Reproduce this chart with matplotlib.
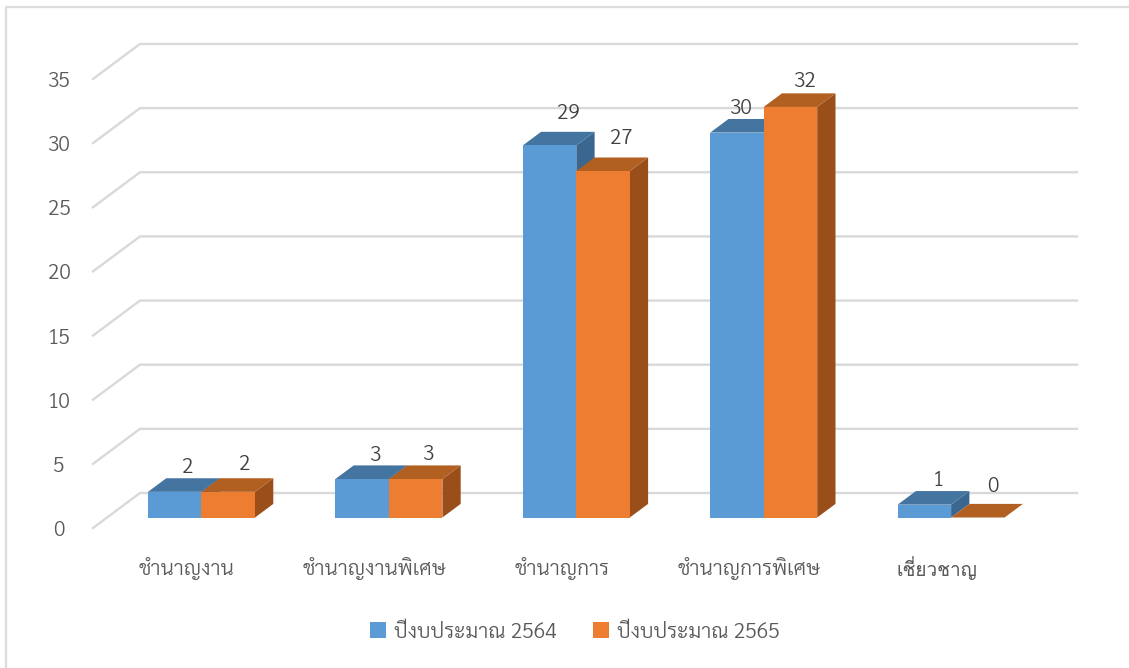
import matplotlib
matplotlib.use("Agg")
import matplotlib.pyplot as plt
from matplotlib.patches import Patch, Polygon

plt.rcParams['font.family'] = ['Sarabun', 'Noto Sans Thai', 'DejaVu Sans']
plt.rcParams['font.weight'] = 300

categories = ["ชำนาญงาน", "ชำนาญงานพิเศษ", "ชำนาญการ", "ชำนาญการพิเศษ", "เชี่ยวชาญ"]
series_names = ["ปีงบประมาณ 2564", "ปีงบประมาณ 2565"]
values_2564 = [2, 3, 29, 30, 1]
values_2565 = [2, 3, 27, 32, 0]
y_ticks = [0, 5, 10, 15, 20, 25, 30, 35]

# layout, in pixels of the 1129x668 picture
W, H = 1129, 668
PX_X = 187.4      # one category
PX_Y = 12.83      # one value unit
X0, Y0 = 201.5, 517.5   # first category centre, baseline of the bars
BAR_W = 53.5 / PX_X
DX, DY = 18.3 / PX_X, 13.6 / PX_Y   # bar depth

# label nudges from the middle of the bar front top, in pixels
offs_2564 = [(13, 24), (13, 24), (19, 32), (4, 24), (14, 24)]
offs_2565 = [(16, 27), (13, 25), (18, 33), (15, 25), (15, 31)]

BLUE = ("#5B9BD5", "#4474A0", "#3B668F")
ORANGE = ("#ED7D31", "#B25F22", "#9A4F1B")
GRID = "#d9d9d9"


def px_x(p):
    return (p - X0) / PX_X


def px_y(p):
    return (Y0 - p) / PX_Y


def draw_bar_3d(ax, x, v, colors, z):
    front, top, side = colors
    left, right = x - BAR_W / 2, x + BAR_W / 2
    if v > 0:
        ax.bar(x, v, width=BAR_W, color=front, linewidth=0, zorder=z + 0.2)
        ax.add_patch(Polygon([(right, 0), (right + DX, DY), (right + DX, v + DY), (right, v)],
                             closed=True, fc=side, lw=0, zorder=z))
    ax.add_patch(Polygon([(left, v), (left + DX, v + DY), (right + DX, v + DY), (right, v)],
                         closed=True, fc=top, lw=0, zorder=z + 0.1))


fig = plt.figure(figsize=(W / 100, H / 100), dpi=100)
ax = fig.add_axes([0, 0, 1, 1])
ax.set_xlim(px_x(0), px_x(W))
ax.set_ylim(px_y(H), px_y(0))
ax.axis("off")

# outer frame of the chart
ax.plot([px_x(W), px_x(6.5), px_x(6.5)], [px_y(6.5), px_y(6.5), px_y(H)], color="#dcdcdc", lw=1.6)

# back wall and left wall gridlines, value labels on the left
base_back = 493.0
for t in y_ticks:
    yb = px_y(base_back) + t * 64.15 / (5 * PX_Y)
    ax.plot([px_x(93), px_x(140), px_x(1077)], [yb - 35 / PX_Y, yb, yb], color=GRID, lw=1.7,
            solid_joinstyle="miter", zorder=1)
    ax.text(px_x(59), t - 13 / PX_Y, str(t), color="#595959", fontsize=15, ha="center", va="center")

for i, (a, b) in enumerate(zip(values_2564, values_2565)):
    xa, xb = i - BAR_W / 2, i + BAR_W / 2
    draw_bar_3d(ax, xa, a, BLUE, 3 + i)
    draw_bar_3d(ax, xb, b, ORANGE, 3.5 + i)
    for x, v, off in ((xa, a, offs_2564[i]), (xb, b, offs_2565[i])):
        ax.annotate(str(v), (x, v), xytext=(off[0] * 0.72, off[1] * 0.72), textcoords="offset points",
                    color="#404040", fontsize=15, ha="center", va="center", zorder=20)
    # Sarabun stacks the tone mark on top of the vowel without shaping, Loma keeps it readable
    if i == 4:
        ax.text(i - 14 / PX_X, px_y(568), categories[i], color="#595959", fontsize=13.7,
                family=["Loma", "Sarabun"], ha="center", va="center")
    else:
        ax.text(i - 14.5 / PX_X, px_y(569), categories[i], color="#595959", fontsize=15.1,
                ha="center", va="center")

handles = [Patch(fc=BLUE[0], lw=0), Patch(fc=ORANGE[0], lw=0)]
ax.legend(handles, series_names, loc="center", bbox_to_anchor=(575 / W, 1 - 632 / H), ncol=2,
          frameon=False, fontsize=15.2, labelcolor="#595959", handlelength=0.76, handleheight=0.76,
          handletextpad=0.38, columnspacing=1.7, borderpad=0)

fig.savefig("out.png", dpi=100)
